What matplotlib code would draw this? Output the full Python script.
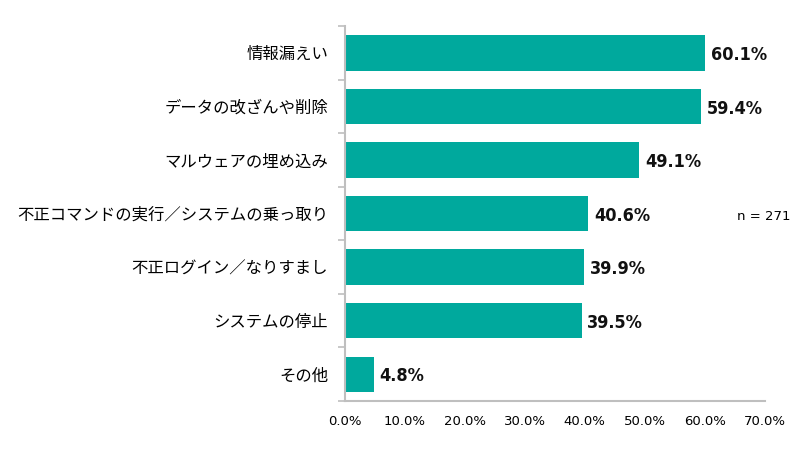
import matplotlib
matplotlib.use('Agg')
import matplotlib.pyplot as plt
from matplotlib.ticker import FixedLocator


plt.rcParams['font.family'] = ['Noto Sans CJK JP', 'DejaVu Sans']

categories = ['情報漏えい', 'データの改ざんや削除', 'マルウェアの埋め込み',
              '不正コマンドの実行／システムの乗っ取り', '不正ログイン／なりすまし',
              'システムの停止', 'その他']
values = [60.1, 59.4, 49.1, 40.6, 39.9, 39.5, 4.8]
x_ticks = [0, 10, 20, 30, 40, 50, 60, 70]

BAR_COLOR = '#00A99D'
SPINE_COLOR = '#BFBFBF'

fig = plt.figure(figsize=(8, 4.5), dpi=100)
ax = fig.add_axes([0.431, 0.109, 0.525, 0.833])

pos = list(range(len(categories)))
ax.barh(pos, values, height=0.66, color=BAR_COLOR)
ax.set_ylim(len(categories) - 0.5, -0.5)
ax.set_xlim(0, 70)

ax.set_yticks(pos)
ax.set_yticklabels(categories, fontsize=11.8)
ax.tick_params(axis='y', length=0, pad=12)
# small marks between categories on the left spine
ax.yaxis.set_minor_locator(FixedLocator([p - 0.5 for p in pos] + [len(pos) - 0.5]))
ax.tick_params(axis='y', which='minor', length=5, color=SPINE_COLOR, width=1.2)

ax.set_xticks(x_ticks)
ax.set_xticklabels(['%.1f%%' % t for t in x_ticks], fontsize=9.5, family='DejaVu Sans')
ax.tick_params(axis='x', length=0, pad=10)

for s in ['top', 'right']:
    ax.spines[s].set_visible(False)
for s in ['left', 'bottom']:
    ax.spines[s].set_color(SPINE_COLOR)
    ax.spines[s].set_linewidth(1.5)

for p, v in zip(pos, values):
    ax.text(v + 0.9, p + 0.04, '%.1f%%' % v, va='center', ha='left', fontsize=13,
            fontweight='bold', family='DejaVu Sans', fontstretch='condensed',
            color='#111111')

fig.text(0.988, 0.518, 'n = 271', ha='right', va='center', fontsize=9.5,
         family='DejaVu Sans')

fig.savefig('out.png', dpi=100)
